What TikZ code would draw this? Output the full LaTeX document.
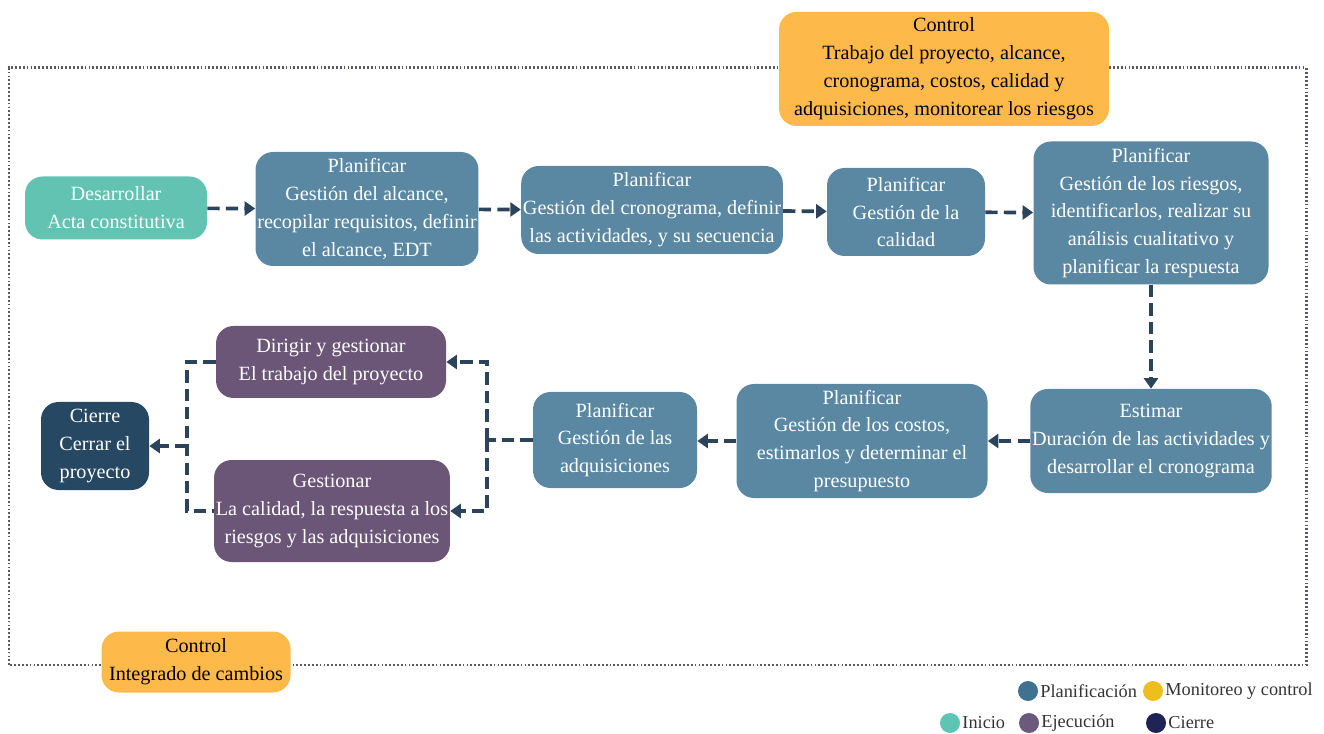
\documentclass[tikz,border=0pt]{standalone}
\usepackage{fontspec}
\setmainfont{Liberation Serif}
\usetikzlibrary{arrows.meta}

\definecolor{planblue}{HTML}{5A88A3}
\definecolor{initeal}{HTML}{63C3B3}
\definecolor{execpurple}{HTML}{6B5677}
\definecolor{closenavy}{HTML}{264863}
\definecolor{ctrlorange}{HTML}{FDBA4A}
\definecolor{flowdark}{HTML}{2B435B}
\definecolor{bordergray}{HTML}{58586A}
\definecolor{keyplan}{HTML}{3E7290}
\definecolor{keyctrl}{HTML}{EEBE1E}
\definecolor{keyinit}{HTML}{5EC5B5}
\definecolor{keyexec}{HTML}{6C5A7C}
\definecolor{keyclose}{HTML}{1F2356}

\tikzset{
  box/.style={rounded corners=0.35cm, inner sep=1pt, align=center, text=white,
    font=\fontsize{11.5}{15.9}\selectfont},
  planbox/.style={box, fill=planblue},
  initbox/.style={box, fill=initeal},
  execbox/.style={box, fill=execpurple},
  closebox/.style={box, fill=closenavy},
  ctrlbox/.style={box, fill=ctrlorange, text=black},
  flow/.style={draw=flowdark, line width=2.1pt, dash pattern=on 7pt off 3.5pt},
  tip/.style={-{Triangle[length=6pt,width=8pt]}},
  keydot/.style={circle, minimum size=0.4cm, inner sep=0pt},
  keytext/.style={anchor=west, inner sep=1pt, text=black!80, font=\fontsize{10.4}{12}\selectfont}
}

\begin{document}
\begin{tikzpicture}

    \useasboundingbox (0,0) rectangle (26.48,14.66);

    % Dotted frame
    \draw[bordergray, line width=1.7pt, dash pattern=on 1pt off 1.2pt] (0.18,1.36) rectangle (26.12,13.30);

    % Control boxes
    \node[ctrlbox, minimum width=6.60cm, minimum height=2.28cm] (ctrltop) at (18.88,13.28)
        {Control\\Trabajo del proyecto, alcance,\\cronograma, costos, calidad y\\adquisiciones, monitorear los riesgos};
    \node[ctrlbox, minimum width=3.78cm, minimum height=1.22cm] (ctrlbot) at (3.92,1.42)
        {Control\\Integrado de cambios};

    % First row
    \node[initbox, minimum width=3.64cm, minimum height=1.26cm] (acta) at (2.32,10.50)
        {Desarrollar\\Acta constitutiva};
    \node[planbox, minimum width=4.44cm, minimum height=2.28cm] (alcance) at (7.34,10.48)
        {Planificar\\Gestión del alcance,\\recopilar requisitos, definir\\el alcance, EDT};
    \node[planbox, minimum width=5.14cm, minimum height=1.76cm] (crono) at (13.04,10.46)
        {Planificar\\Gestión del cronograma, definir\\las actividades, y su secuencia};
    \node[planbox, minimum width=3.16cm, minimum height=1.76cm] (calidad) at (18.12,10.42)
        {Planificar\\Gestión de la\\calidad};
    \node[planbox, minimum width=4.70cm, minimum height=2.86cm] (riesgos) at (23.02,10.40)
        {Planificar\\Gestión de los riesgos,\\identificarlos, realizar su\\análisis cualitativo y\\planificar la respuesta};

    % Second row
    \node[planbox, minimum width=4.74cm, minimum height=2.08cm] (estimar) at (23.02,5.84)
        {Estimar\\Duración de las actividades y\\desarrollar el cronograma};
    \node[planbox, minimum width=5.02cm, minimum height=2.28cm] (costos) at (17.24,5.84)
        {Planificar\\Gestión de los costos,\\estimarlos y determinar el\\presupuesto};
    \node[planbox, minimum width=3.28cm, minimum height=1.92cm] (adquis) at (12.30,5.86)
        {Planificar\\Gestión de las\\adquisiciones};
    \node[execbox, minimum width=4.60cm, minimum height=1.44cm] (dirigir) at (6.62,7.42)
        {Dirigir y gestionar\\El trabajo del proyecto};
    \node[execbox, minimum width=4.64cm, minimum height=2.04cm] (gestionar) at (6.64,4.44)
        {Gestionar\\La calidad, la respuesta a los\\riesgos y las adquisiciones};
    \node[closebox, minimum width=2.16cm, minimum height=1.76cm] (cierre) at (1.90,5.74)
        {Cierre\\Cerrar el\\proyecto};

    % Flow
    \draw[flow, tip] (acta) -- (alcance);
    \draw[flow, tip] (alcance) -- (crono);
    \draw[flow, tip] (crono) -- (calidad);
    \draw[flow, tip] (calidad) -- (riesgos);
    \draw[flow, tip] (riesgos) -- (estimar);
    \draw[flow, tip] (estimar) -- (costos);
    \draw[flow, tip] (costos.west) -- (adquis.east |- costos.west);

    % Split and merge
    \coordinate (split) at (9.74,5.86);
    \coordinate (merge) at (3.74,5.74);
    \draw[flow] (adquis.west) -- (split);
    \draw[flow, tip] (split) |- (dirigir.east);
    \draw[flow, tip] (split) |- (gestionar.east);
    \draw[flow] (dirigir.west) -| (merge) |- (gestionar.west);
    \draw[flow, tip] (merge) -- (cierre.east);

    % Legend
    \node[keydot, fill=keyplan] (kplan) at (20.56,0.84) {};
    \node[keytext] (tplan) at (kplan.east) {Planificación};
    \node[keydot, fill=keyctrl] (kctrl) at (23.06,0.84) {};
    \node[keytext] (tctrl) at (kctrl.east) {Monitoreo y control};
    \node[keydot, fill=keyinit] (kinit) at (19.00,0.20) {};
    \node[keytext] (tinit) at (kinit.east) {Inicio};
    \node[keydot, fill=keyexec] (kexec) at (20.58,0.20) {};
    \node[keytext] (texec) at (kexec.east) {Ejecución};
    \node[keydot, fill=keyclose] (kclose) at (23.12,0.20) {};
    \node[keytext] (tclose) at (kclose.east) {Cierre};
\end{tikzpicture}
\end{document}
